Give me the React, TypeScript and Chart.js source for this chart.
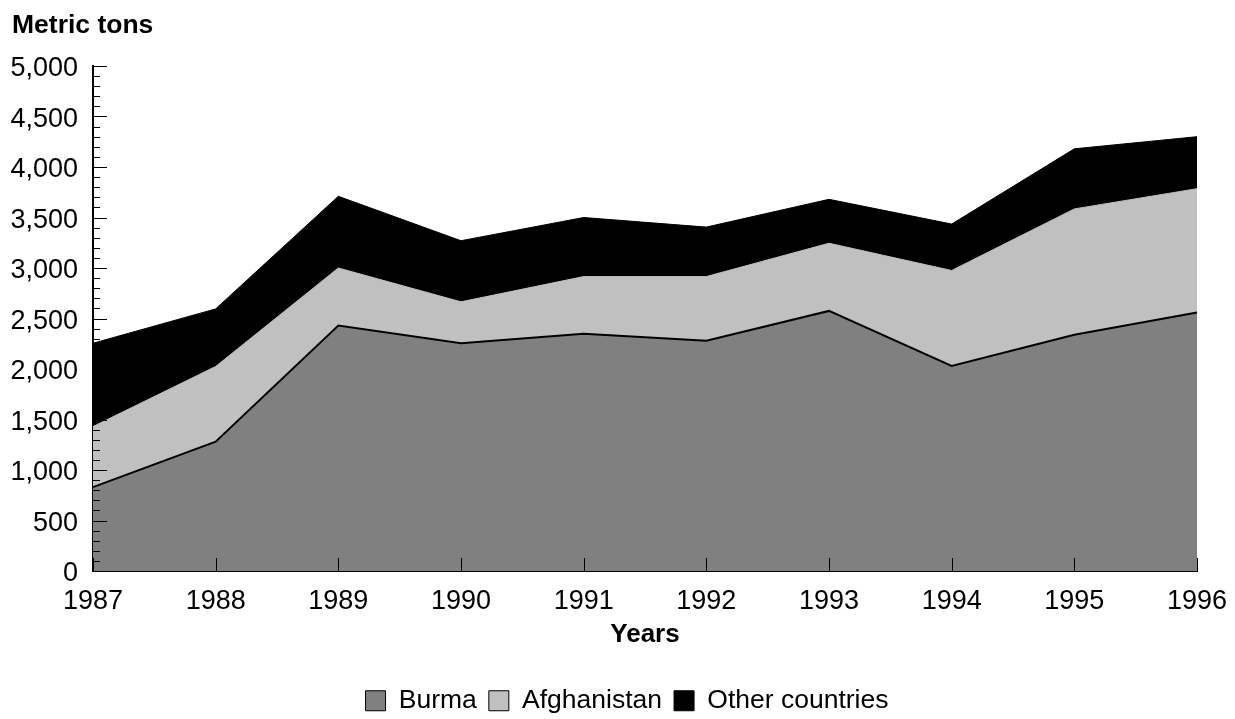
import React, { useEffect, useRef } from "react";
import { Chart, registerables } from "chart.js";

Chart.register(...registerables);

const years = ["1987", "1988", "1989", "1990", "1991", "1992", "1993", "1994", "1995", "1996"];
const burma = [830, 1280, 2430, 2255, 2350, 2280, 2575, 2030, 2340, 2560];
const afghanistan = [600, 745, 570, 410, 565, 635, 670, 945, 1245, 1225];
const otherCountries = [825, 570, 710, 605, 585, 490, 435, 460, 595, 515];

const seriesNames = ["Burma", "Afghanistan", "Other countries"];
const seriesColors = ["#808080", "#c0c0c0", "#000000"];

const yMin = 0;
const yMax = 5000;
const yStep = 500;
const yMinorStep = 100;

const FONT = '"Liberation Sans", Arial, Helvetica, sans-serif';

const innerTicks = {
  id: "innerTicks",
  afterLayout(chart: any) {
    // let the y tick labels extend to the left canvas edge (no clipping)
    chart.scales.y.left = 0;
  },
  afterDraw(chart: any) {
    const { ctx, chartArea, scales } = chart;
    const x = scales.x;
    const y = scales.y;
    ctx.save();
    ctx.strokeStyle = "#000";
    ctx.lineWidth = 1;
    for (let v = yMin; v <= yMax; v += yMinorStep) {
      const py = Math.round(y.getPixelForValue(v)) + 0.5;
      const len = v % yStep === 0 ? 14 : 7;
      ctx.beginPath();
      ctx.moveTo(chartArea.left, py);
      ctx.lineTo(chartArea.left + len, py);
      ctx.stroke();
    }
    years.forEach((_, i) => {
      const px = Math.round(x.getPixelForValue(i)) + 0.5;
      ctx.beginPath();
      ctx.moveTo(px, chartArea.bottom);
      ctx.lineTo(px, chartArea.bottom - 13);
      ctx.stroke();
    });
    // y-axis caption
    ctx.fillStyle = "#000";
    ctx.font = `bold 26.5px ${FONT}`;
    ctx.textAlign = "left";
    ctx.textBaseline = "alphabetic";
    ctx.fillText("Metric tons", 12, 33);
    ctx.restore();
  },
};

export default function App() {
  const canvasRef = useRef<HTMLCanvasElement | null>(null);

  useEffect(() => {
    if (!canvasRef.current) return;
    Chart.defaults.font.family = FONT;
    const seriesData = [burma, afghanistan, otherCountries];
    const chart = new Chart(canvasRef.current, {
      type: "line",
      data: {
        labels: years,
        datasets: seriesData.map((d, i) => ({
          label: seriesNames[i],
          data: d,
          backgroundColor: seriesColors[i],
          borderColor: i === 0 ? "#000000" : seriesColors[i],
          borderWidth: i === 0 ? 2 : 1,
          fill: "origin",
          pointRadius: 0,
          pointHoverRadius: 0,
          tension: 0,
        })),
      },
      options: {
        responsive: false,
        animation: false,
        events: [],
        layout: { padding: { left: 57, right: 38, top: 66, bottom: -5 } },
        scales: {
          x: {
            z: 1,
            offset: false,
            grid: { display: false, drawTicks: false },
            border: { display: true, color: "#000", width: 2 },
            ticks: {
              color: "#000",
              font: { size: 27 },
              padding: 14,
              autoSkip: false,
              maxRotation: 0,
            },
            title: {
              display: true,
              text: "Years",
              color: "#000",
              font: { size: 26, weight: "bold" },
              padding: { top: 0, bottom: 25 },
            },
            afterFit(scale: any) {
              scale.height = 104.5;
              scale.paddingLeft = 0;
              scale.paddingRight = 0;
            },
          },
          y: {
            z: 1,
            stacked: true,
            min: yMin,
            max: yMax,
            grid: { display: false, drawTicks: false },
            border: { display: true, color: "#000", width: 2 },
            ticks: {
              stepSize: yStep,
              color: "#000",
              font: { size: 27 },
              padding: 15,
              labelOffset: 3,
              callback: (v: any) => Number(v).toLocaleString("en-US"),
            },
            afterFit(scale: any) {
              scale.width = 36;
            },
          },
        },
        plugins: {
          tooltip: { enabled: false },
          title: { display: false },
          legend: {
            display: true,
            position: "bottom",
            labels: {
              color: "#000",
              font: { size: 26.5 },
              boxWidth: 20,
              boxHeight: 20,
              padding: 12,
              generateLabels: (c: any) =>
                Chart.defaults.plugins.legend.labels.generateLabels(c).map((l: any) => ({
                  ...l,
                  fillStyle: seriesColors[l.datasetIndex],
                  strokeStyle: "#000",
                  lineWidth: 1,
                })),
            },
          },
        },
      },
      plugins: [innerTicks],
    });
    return () => chart.destroy();
  }, []);

  return (
    <div style={{ position: "absolute", left: 0, top: 0, width: 1235, height: 719, background: "#fff" }}>
      <canvas ref={canvasRef} width={1235} height={719} style={{ width: 1235, height: 719 }} />
    </div>
  );
}
